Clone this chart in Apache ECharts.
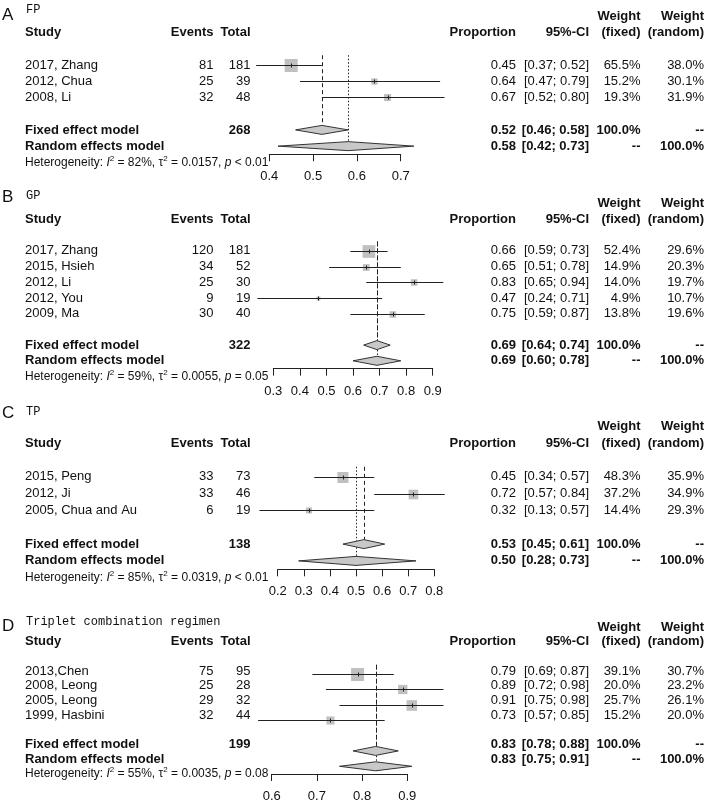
<!DOCTYPE html>
<html><head><meta charset="utf-8">
<script src="https://cdn.jsdelivr.net/npm/echarts/dist/echarts.min.js"></script>
<style>html,body{margin:0;padding:0;background:#fff}#main{width:707px;height:803px}</style>
</head><body><div id="main"></div>
<script>
// ---------------- DATA ----------------
const panelLetters = ['A', 'B', 'C', 'D'];
const panelTitles = ['FP', 'GP', 'TP', 'Triplet combination regimen'];

// Panel A - FP
const studiesA = ['2017, Zhang', '2012, Chua', '2008, Li'];
const eventsA = [81, 25, 32];
const totalsA = [181, 39, 48];
const propA = [0.45, 0.64, 0.67];
const lowerA = [0.37, 0.47, 0.52];
const upperA = [0.52, 0.79, 0.80];
const wFixedA = [65.5, 15.2, 19.3];
const wRandomA = [38.0, 30.1, 31.9];
const fixedA = [0.52, 0.46, 0.58];   // estimate, lower, upper
const randomA = [0.58, 0.42, 0.73];
const nTotalA = 268;
const hetA = ['82%', '0.0157', '< 0.01'];
const ticksA = [0.4, 0.5, 0.6, 0.7];

// Panel B - GP
const studiesB = ['2017, Zhang', '2015, Hsieh', '2012, Li', '2012, You', '2009, Ma'];
const eventsB = [120, 34, 25, 9, 30];
const totalsB = [181, 52, 30, 19, 40];
const propB = [0.66, 0.65, 0.83, 0.47, 0.75];
const lowerB = [0.59, 0.51, 0.65, 0.24, 0.59];
const upperB = [0.73, 0.78, 0.94, 0.71, 0.87];
const wFixedB = [52.4, 14.9, 14.0, 4.9, 13.8];
const wRandomB = [29.6, 20.3, 19.7, 10.7, 19.6];
const fixedB = [0.69, 0.64, 0.74];
const randomB = [0.69, 0.60, 0.78];
const nTotalB = 322;
const hetB = ['59%', '0.0055', '= 0.05'];
const ticksB = [0.3, 0.4, 0.5, 0.6, 0.7, 0.8, 0.9];

// Panel C - TP
const studiesC = ['2015, Peng', '2012, Ji', '2005, Chua and Au'];
const eventsC = [33, 33, 6];
const totalsC = [73, 46, 19];
const propC = [0.45, 0.72, 0.32];
const lowerC = [0.34, 0.57, 0.13];
const upperC = [0.57, 0.84, 0.57];
const wFixedC = [48.3, 37.2, 14.4];
const wRandomC = [35.9, 34.9, 29.3];
const fixedC = [0.53, 0.45, 0.61];
const randomC = [0.50, 0.28, 0.73];
const nTotalC = 138;
const hetC = ['85%', '0.0319', '< 0.01'];
const ticksC = [0.2, 0.3, 0.4, 0.5, 0.6, 0.7, 0.8];

// Panel D - Triplet combination regimen
const studiesD = ['2013,Chen', '2008, Leong', '2005, Leong', '1999, Hasbini'];
const eventsD = [75, 25, 29, 32];
const totalsD = [95, 28, 32, 44];
const propD = [0.79, 0.89, 0.91, 0.73];
const lowerD = [0.69, 0.72, 0.75, 0.57];
const upperD = [0.87, 0.98, 0.98, 0.85];
const wFixedD = [39.1, 20.0, 25.7, 15.2];
const wRandomD = [30.7, 23.2, 26.1, 20.0];
const fixedD = [0.83, 0.78, 0.88];
const randomD = [0.83, 0.75, 0.91];
const nTotalD = 199;
const hetD = ['55%', '0.0035', '= 0.08'];
const ticksD = [0.6, 0.7, 0.8, 0.9];

const panels = [
  {studies: studiesA, events: eventsA, totals: totalsA, prop: propA, lower: lowerA, upper: upperA, wF: wFixedA, wR: wRandomA, fixed: fixedA, random: randomA, nTotal: nTotalA, het: hetA, ticks: ticksA},
  {studies: studiesB, events: eventsB, totals: totalsB, prop: propB, lower: lowerB, upper: upperB, wF: wFixedB, wR: wRandomB, fixed: fixedB, random: randomB, nTotal: nTotalB, het: hetB, ticks: ticksB},
  {studies: studiesC, events: eventsC, totals: totalsC, prop: propC, lower: lowerC, upper: upperC, wF: wFixedC, wR: wRandomC, fixed: fixedC, random: randomC, nTotal: nTotalC, het: hetC, ticks: ticksC},
  {studies: studiesD, events: eventsD, totals: totalsD, prop: propD, lower: lowerD, upper: upperD, wF: wFixedD, wR: wRandomD, fixed: fixedD, random: randomD, nTotal: nTotalD, het: hetD, ticks: ticksD}
];

// ---------------- LAYOUT / STYLE ----------------
const FONT = 'Liberation Sans, Arial, sans-serif';
const MONO = 'Liberation Mono, Courier New, monospace';
const TXT = '#111';
const LINE = '#222';
const SQ_FILL = '#c0c0c0';
const DIA_FILL = '#c8c8c8';
const DIA_H = 4.5;
const FS = 13;
const HET_FS = 12;
const cols = {study: 25, events: 213.5, total: 250.5, prop: 516, ci: 589, wf: 640.5, wr: 704};
const L = [
  {base: 32,    rowH: 16.3, x0: 269.3, x1: 400.7, sq: 13,   letterY: 15,  titleY: 10},
  {base: 219.5, rowH: 15.7, x0: 273.3, x1: 432.7, sq: 12.7, letterY: 197, titleY: 196},
  {base: 443.3, rowH: 16.8, x0: 277.7, x1: 434.3, sq: 11,   letterY: 413, titleY: 412},
  {base: 643.5, rowH: 15.5, x0: 271.7, x1: 407.3, sq: 13,   letterY: 626, titleY: 622}
];

const f2 = v => v.toFixed(2);
const ciStr = (lo, hi) => '[' + f2(lo) + '; ' + f2(hi) + ']';
const pct = v => v.toFixed(1) + '%';

const grid = [], xAxis = [], yAxis = [], series = [], graphic = [];

panels.forEach((d, p) => {
  const lay = L[p];
  const n = d.studies.length;
  const fixedRow = n + 3, randomRow = n + 4, hetRow = n + 5, axisRow = randomRow + 0.5;
  const top = lay.base - 2 * lay.rowH;
  const fg = 2 * p, tg = 2 * p + 1;

  grid.push({left: lay.x0, width: lay.x1 - lay.x0, top: top, height: (axisRow + 2) * lay.rowH});
  grid.push({left: 0, width: 707, top: top, height: (hetRow + 4) * lay.rowH});

  xAxis.push({
    gridIndex: fg, type: 'value', min: d.ticks[0], max: d.ticks[d.ticks.length - 1], interval: 0.1,
    axisLine: {show: true, onZero: false, lineStyle: {color: LINE, width: 1}},
    axisTick: {show: true, length: 7, lineStyle: {color: LINE, width: 1}},
    axisLabel: {fontSize: FS, color: TXT, fontFamily: FONT, margin: 16, formatter: v => v.toFixed(1)},
    splitLine: {show: false}
  });
  yAxis.push({gridIndex: fg, type: 'value', min: -2, max: axisRow, inverse: true, show: false});
  xAxis.push({gridIndex: tg, type: 'value', min: 0, max: 707, show: false});
  yAxis.push({gridIndex: tg, type: 'value', min: -2, max: hetRow + 2, inverse: true, show: false});

  // reference lines (fixed dashed, random dotted)
  const vlines = [[d.fixed[0], 1.4, fixedRow, 0], [d.random[0], 1.4, randomRow + 0.3, 1]];
  series.push({
    type: 'custom', xAxisIndex: fg, yAxisIndex: fg, clip: false, silent: true, animation: false, z: 2,
    data: vlines,
    renderItem(params, api) {
      const a = api.coord([api.value(0), api.value(1)]);
      const b = api.coord([api.value(0), api.value(2)]);
      const x = Math.round(a[0]) + 0.5;
      const dashed = api.value(3) === 0;
      return {type: 'line', shape: {x1: x, y1: a[1], x2: x, y2: b[1]},
        style: {stroke: LINE, lineWidth: 1, lineDash: dashed ? [4, 3] : [1.5, 2]}};
    }
  });

  // studies
  const maxW = Math.max.apply(null, d.wF);
  const studyData = d.studies.map((s, i) => [d.prop[i], d.lower[i], d.upper[i], d.wF[i], i + 2]);
  series.push({
    type: 'custom', xAxisIndex: fg, yAxisIndex: fg, clip: false, silent: true, animation: false, z: 3,
    data: studyData,
    renderItem(params, api) {
      const row = api.value(4);
      const pe = api.coord([api.value(0), row]);
      const pl = api.coord([api.value(1), row]);
      const ph = api.coord([api.value(2), row]);
      const s = lay.sq * Math.sqrt(api.value(3) / maxW);
      const y = Math.round(pe[1]) + 0.5;
      return {type: 'group', children: [
        {type: 'rect', shape: {x: pe[0] - s / 2, y: y - s / 2, width: s, height: s}, style: {fill: SQ_FILL}},
        {type: 'line', shape: {x1: pl[0], y1: y, x2: ph[0], y2: y}, style: {stroke: LINE, lineWidth: 1}},
        {type: 'line', shape: {x1: Math.round(pe[0]) + 0.5, y1: y - 2, x2: Math.round(pe[0]) + 0.5, y2: y + 2}, style: {stroke: LINE, lineWidth: 1}}
      ]};
    }
  });

  // diamonds
  const diaData = [[d.fixed[0], d.fixed[1], d.fixed[2], fixedRow], [d.random[0], d.random[1], d.random[2], randomRow]];
  series.push({
    type: 'custom', xAxisIndex: fg, yAxisIndex: fg, clip: false, silent: true, animation: false, z: 4,
    data: diaData,
    renderItem(params, api) {
      const row = api.value(3);
      const pe = api.coord([api.value(0), row]);
      const pl = api.coord([api.value(1), row]);
      const ph = api.coord([api.value(2), row]);
      return {type: 'polygon', shape: {points: [[pl[0], pe[1]], [pe[0], pe[1] - DIA_H], [ph[0], pe[1]], [pe[0], pe[1] + DIA_H]]},
        style: {fill: DIA_FILL, stroke: '#333', lineWidth: 1}};
    }
  });

  // text table
  const items = [];
  const add = (x, row, text, align, bold, extra) => items.push(Object.assign({x, row, text: String(text), align, bold}, extra || {}));
  add(cols.wf, -1, 'Weight', 'right', true);
  add(cols.wr, -1, 'Weight', 'right', true);
  add(cols.study, 0, 'Study', 'left', true);
  add(cols.events, 0, 'Events', 'right', true);
  add(cols.total, 0, 'Total', 'right', true);
  add(cols.prop, 0, 'Proportion', 'right', true);
  add(cols.ci, 0, '95%-CI', 'right', true);
  add(cols.wf, 0, '(fixed)', 'right', true);
  add(cols.wr, 0, '(random)', 'right', true);
  d.studies.forEach((s, i) => {
    const r = i + 2;
    add(cols.study, r, s, 'left', false);
    add(cols.events, r, d.events[i], 'right', false);
    add(cols.total, r, d.totals[i], 'right', false);
    add(cols.prop, r, f2(d.prop[i]), 'right', false);
    add(cols.ci, r, ciStr(d.lower[i], d.upper[i]), 'right', false);
    add(cols.wf, r, pct(d.wF[i]), 'right', false);
    add(cols.wr, r, pct(d.wR[i]), 'right', false);
  });
  add(cols.study, fixedRow, 'Fixed effect model', 'left', true);
  add(cols.total, fixedRow, d.nTotal, 'right', true);
  add(cols.prop, fixedRow, f2(d.fixed[0]), 'right', true);
  add(cols.ci, fixedRow, ciStr(d.fixed[1], d.fixed[2]), 'right', true);
  add(cols.wf, fixedRow, '100.0%', 'right', true);
  add(cols.wr, fixedRow, '--', 'right', true);
  add(cols.study, randomRow, 'Random effects model', 'left', true);
  add(cols.prop, randomRow, f2(d.random[0]), 'right', true);
  add(cols.ci, randomRow, ciStr(d.random[1], d.random[2]), 'right', true);
  add(cols.wf, randomRow, '--', 'right', true);
  add(cols.wr, randomRow, '100.0%', 'right', true);
  add(cols.study, hetRow,
    '{n|Heterogeneity: }{i|I}{s|2}{n| = ' + d.het[0] + ', τ}{s|2}{n| = ' + d.het[1] + ', }{i|p}{n| ' + d.het[2] + '}',
    'left', false, {rich: {
      n: {fontSize: HET_FS, fontFamily: FONT, fill: TXT, lineHeight: 16},
      i: {fontSize: HET_FS, fontFamily: FONT, fontStyle: 'italic', fill: TXT, lineHeight: 16},
      s: {fontSize: 8, fontFamily: FONT, fill: TXT, lineHeight: 16, verticalAlign: 'top'}
    }});

  series.push({
    type: 'custom', xAxisIndex: tg, yAxisIndex: tg, clip: false, silent: true, animation: false, z: 5,
    data: items.map(it => [it.x, it.row]),
    renderItem(params, api) {
      const it = items[params.dataIndex];
      const pt = api.coord([api.value(0), api.value(1)]);
      const style = {text: it.text, align: it.align, verticalAlign: 'middle', fill: TXT,
        fontFamily: FONT, fontSize: FS, fontWeight: it.bold ? 'bold' : 'normal'};
      if (it.rich) style.rich = it.rich;
      return {type: 'text', x: pt[0], y: pt[1], style: style};
    }
  });

  graphic.push({type: 'text', x: 2, y: lay.letterY, silent: true,
    style: {text: panelLetters[p], fontSize: 17, fontFamily: FONT, fill: TXT, verticalAlign: 'middle'}});
  graphic.push({type: 'text', x: 26, y: lay.titleY, silent: true,
    style: {text: panelTitles[p], fontSize: 12, fontFamily: MONO, fill: TXT, verticalAlign: 'middle'}});
});

const chart = echarts.init(document.getElementById('main'), null, {renderer: 'canvas'});
chart.setOption({
  backgroundColor: '#fff',
  animation: false,
  grid: grid, xAxis: xAxis, yAxis: yAxis, series: series, graphic: graphic
});
</script></body></html>
